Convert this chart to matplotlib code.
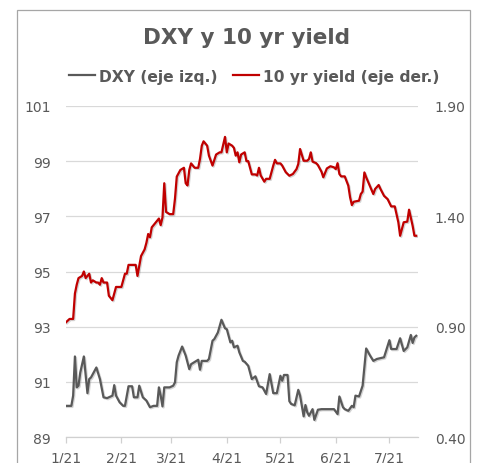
import matplotlib
matplotlib.use("Agg")
import matplotlib.pyplot as plt
import matplotlib.patheffects as pe
from matplotlib.patches import Rectangle
import pandas as pd

# DXY (eje izq.)
dxy_dates = ["01-01", "01-03", "01-04", "01-05", "01-06", "01-07", "01-08", "01-09", "01-11", "01-13",
             "01-14", "01-15", "01-18", "01-20", "01-22", "01-24", "01-27", "01-28", "01-29", "01-31",
             "02-02", "02-03", "02-05", "02-07", "02-08", "02-10", "02-11", "02-13", "02-15", "02-17",
             "02-19", "02-21", "02-22", "02-23", "02-24", "02-25", "02-28", "03-02", "03-03", "03-04",
             "03-05", "03-07", "03-09", "03-11", "03-12", "03-15", "03-16", "03-17", "03-18", "03-21",
             "03-22", "03-24", "03-25", "03-27", "03-29", "03-31", "04-01", "04-03", "04-04", "04-05",
             "04-07", "04-08", "04-10", "04-11", "04-13", "04-15", "04-17", "04-19", "04-21", "04-23",
             "04-25", "04-27", "04-29", "05-01", "05-02", "05-03", "05-05", "05-06", "05-07", "05-09",
             "05-11", "05-12", "05-13", "05-14", "05-15", "05-16", "05-17", "05-19", "05-20", "05-22",
             "05-24", "05-28", "05-31", "06-02", "06-03", "06-05", "06-06", "06-08", "06-10", "06-11",
             "06-12", "06-14", "06-16", "06-18", "06-20", "06-22", "06-24", "06-28", "07-01", "07-02",
             "07-05", "07-07", "07-09", "07-11", "07-13", "07-14", "07-15", "07-16"]
dxy_vals = [90.13, 90.13, 90.13, 90.50, 91.92, 90.80, 90.86, 91.34, 91.92, 90.59,
            91.10, 91.16, 91.52, 91.10, 90.44, 90.41, 90.50, 90.88, 90.50, 90.26,
            90.13, 90.13, 90.84, 90.84, 90.44, 90.44, 90.86, 90.44, 90.32, 90.08,
            90.13, 90.13, 90.80, 90.50, 90.11, 90.80, 90.80, 90.86, 90.98, 91.71,
            91.95, 92.28, 91.95, 91.46, 91.64, 91.76, 91.80, 91.44, 91.76, 91.76,
            91.83, 92.49, 92.55, 92.79, 93.25, 92.94, 92.91, 92.43, 92.49, 92.25,
            92.31, 92.07, 91.76, 91.73, 91.58, 91.10, 91.20, 90.84, 90.80, 90.56,
            91.28, 90.59, 90.59, 91.22, 91.04, 91.25, 91.25, 90.30, 90.20, 90.15,
            90.71, 90.50, 90.13, 89.75, 90.16, 89.90, 89.77, 90.01, 89.62, 89.99,
            90.01, 90.01, 90.01, 89.83, 90.47, 90.08, 90.01, 89.95, 90.13, 90.08,
            90.50, 90.47, 90.86, 92.21, 91.97, 91.76, 91.83, 91.89, 92.51, 92.19,
            92.19, 92.58, 92.12, 92.25, 92.70, 92.41, 92.61, 92.67]

# 10 yr yield (eje der.)
y10_dates = ["01-01", "01-03", "01-05", "01-06", "01-07", "01-08", "01-10", "01-11", "01-12", "01-14",
             "01-15", "01-16", "01-18", "01-19", "01-20", "01-21", "01-22", "01-24", "01-25", "01-27",
             "01-29", "02-01", "02-03", "02-04", "02-05", "02-07", "02-09", "02-10", "02-12", "02-14",
             "02-15", "02-16", "02-17", "02-18", "02-20", "02-22", "02-23", "02-24", "02-25", "02-26",
             "02-28", "03-02", "03-03", "03-04", "03-06", "03-08", "03-09", "03-10", "03-11", "03-12",
             "03-14", "03-16", "03-17", "03-18", "03-19", "03-21", "03-22", "03-24", "03-26", "03-28",
             "03-29", "03-31", "04-01", "04-02", "04-04", "04-05", "04-06", "04-07", "04-08", "04-09",
             "04-11", "04-12", "04-13", "04-15", "04-17", "04-18", "04-19", "04-20", "04-22", "04-23",
             "04-25", "04-27", "04-28", "04-29", "05-01", "05-02", "05-04", "05-06", "05-08", "05-10",
             "05-11", "05-12", "05-14", "05-16", "05-17", "05-18", "05-19", "05-21", "05-22", "05-24",
             "05-25", "05-27", "05-29", "05-31", "06-01", "06-02", "06-03", "06-04", "06-06", "06-08",
             "06-09", "06-10", "06-11", "06-14", "06-15", "06-16", "06-17", "06-18", "06-20", "06-22",
             "06-23", "06-25", "06-26", "06-28", "06-30", "07-02", "07-04", "07-06", "07-07", "07-09",
             "07-11", "07-12", "07-14", "07-15", "07-16"]
y10_vals = [0.92, 0.935, 0.935, 1.05, 1.09, 1.12, 1.13, 1.15, 1.12, 1.14,
            1.10, 1.11, 1.10, 1.10, 1.09, 1.12, 1.10, 1.10, 1.04, 1.02,
            1.08, 1.08, 1.14, 1.14, 1.18, 1.18, 1.18, 1.13, 1.22, 1.25,
            1.28, 1.32, 1.305, 1.35, 1.37, 1.39, 1.36, 1.395, 1.55, 1.42,
            1.41, 1.41, 1.48, 1.58, 1.61, 1.62, 1.55, 1.54, 1.61, 1.64,
            1.62, 1.62, 1.66, 1.72, 1.74, 1.72, 1.675, 1.63, 1.68, 1.69,
            1.69, 1.76, 1.69, 1.73, 1.72, 1.71, 1.675, 1.69, 1.645, 1.68,
            1.69, 1.65, 1.65, 1.59, 1.59, 1.585, 1.62, 1.585, 1.557, 1.57,
            1.57, 1.63, 1.656, 1.64, 1.64, 1.63, 1.60, 1.584, 1.592, 1.614,
            1.637, 1.705, 1.652, 1.652, 1.66, 1.69, 1.648, 1.641, 1.632, 1.602,
            1.577, 1.617, 1.627, 1.622, 1.614, 1.641, 1.592, 1.581, 1.581, 1.539,
            1.486, 1.451, 1.466, 1.471, 1.501, 1.512, 1.599, 1.577, 1.539, 1.501,
            1.524, 1.542, 1.524, 1.493, 1.478, 1.445, 1.445, 1.373, 1.312, 1.373,
            1.376, 1.43, 1.357, 1.312, 1.312]

month_ticks = ["01-01", "02-01", "03-01", "04-01", "05-01", "06-01", "07-01"]
month_labels = ["1/21", "2/21", "3/21", "4/21", "5/21", "6/21", "7/21"]
left_ticks = [89, 91, 93, 95, 97, 99, 101]
right_ticks = [0.40, 0.90, 1.40, 1.90]

txt = "#595959"
grey_line = "#595959"
red_line = "#c00000"

dxy_x = pd.to_datetime(["2021-" + d for d in dxy_dates])
y10_x = pd.to_datetime(["2021-" + d for d in y10_dates])

fig = plt.figure(figsize=(4.82, 4.64), dpi=100)
# marco del grafico
fig.patches.append(Rectangle((0.0353, -0.05), 0.9397, 1.026, transform=fig.transFigure,
                             fill=False, edgecolor="#a6a6a6", linewidth=0.9))

ax = fig.add_axes([0.1369, 0.056, 0.7303, 0.7134])
ax2 = ax.twinx()

shadow = [pe.SimpleLineShadow(offset=(0.8, -0.8), alpha=0.25, shadow_color="#555555"), pe.Normal()]
l1, = ax.plot(dxy_x, dxy_vals, color=grey_line, lw=1.6, path_effects=shadow,
              label="DXY (eje izq.)")
l2, = ax2.plot(y10_x, y10_vals, color=red_line, lw=1.6, path_effects=shadow,
               label="10 yr yield (eje der.)")

ax.set_ylim(89, 101)
ax2.set_ylim(0.40, 1.90)
ax.set_yticks(left_ticks)
ax.set_yticklabels([str(v) for v in left_ticks])
ax2.set_yticks(right_ticks)
ax2.set_yticklabels([f"{v:.2f}" for v in right_ticks])

ax.set_xlim(pd.Timestamp("2021-01-01"), pd.Timestamp("2021-07-17"))
ax.set_xticks(pd.to_datetime(["2021-" + d for d in month_ticks]))
ax.set_xticklabels(month_labels)

ax.grid(axis="y", color="#d9d9d9", lw=0.9)
ax.set_axisbelow(True)
for a in (ax, ax2):
    for s in a.spines.values():
        s.set_visible(False)
ax.spines["bottom"].set_visible(True)
ax.spines["bottom"].set_color("#d0d0d0")
ax.spines["bottom"].set_linewidth(0.9)

ax.tick_params(axis="y", length=0, pad=11, labelsize=10, labelcolor=txt)
ax2.tick_params(axis="y", length=0, pad=12, labelsize=10, labelcolor=txt)
ax.tick_params(axis="x", length=4, width=0.9, color="#d0d0d0", pad=6, labelsize=10, labelcolor=txt)

fig.text(0.512, 0.919, "DXY y 10 yr yield", ha="center", va="center",
         fontsize=15.5, fontweight="bold", color=txt)

leg = fig.legend(handles=[l1, l2], loc="center", bbox_to_anchor=(0.527, 0.834), ncol=2,
                 frameon=False, handlelength=1.67, handletextpad=0.25, columnspacing=1.0,
                 prop={"size": 11.2, "weight": "bold"})
for t in leg.get_texts():
    t.set_color(txt)
for h in leg.legend_handles:
    h.set_path_effects([])

fig.savefig("out.png", dpi=100)
